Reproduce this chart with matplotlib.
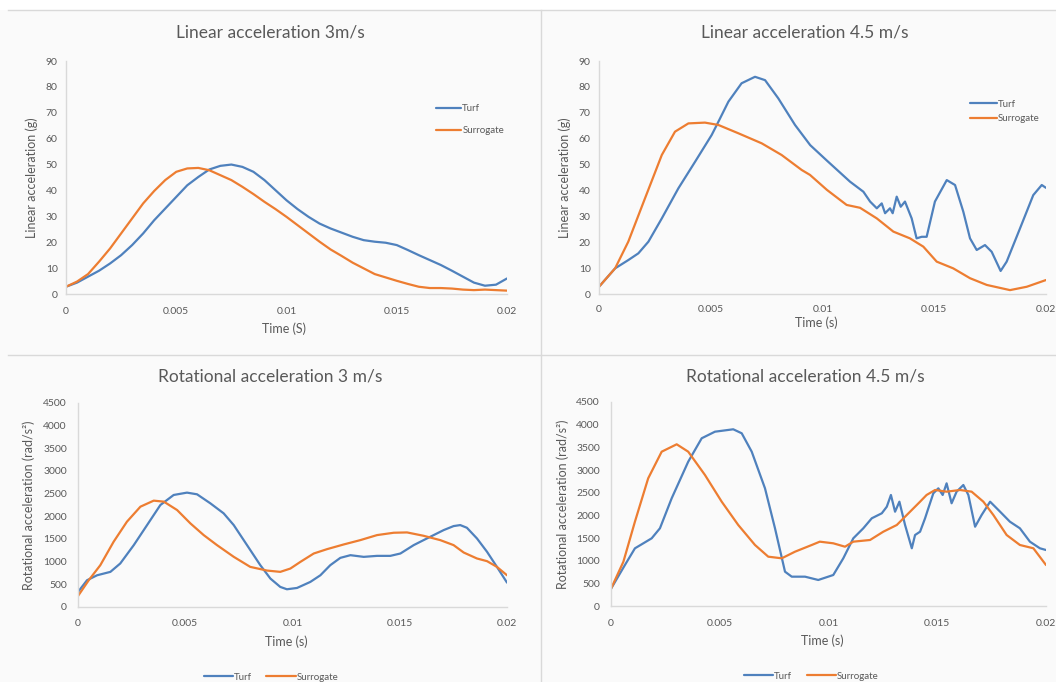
import matplotlib
matplotlib.use("Agg")
import matplotlib.pyplot as plt
import numpy as np
from matplotlib.lines import Line2D

plt.rcParams['font.family'] = ['Lato', 'DejaVu Sans']

# ---------------- data (time in milliseconds, converted to seconds for plotting) ----------------
# Panel 1: Linear acceleration 3 m/s
t1_ms = [0, 0.5, 1, 1.5, 2, 2.5, 3, 3.5, 4, 4.5, 5, 5.5, 6, 6.5, 7, 7.5, 8, 8.5, 9, 9.5, 10,
         10.5, 11, 11.5, 12, 12.5, 13, 13.5, 14, 14.5, 15, 15.5, 16, 16.5, 17, 17.5, 18, 18.5,
         19, 19.5, 20]
v1_turf = [2.8, 4.4, 6.7, 9.0, 11.8, 15.0, 18.9, 23.4, 28.5, 33.0, 37.5, 42.0, 45.2, 48.1,
           49.5, 50.0, 49.1, 47.2, 44.0, 40.1, 36.2, 32.8, 29.8, 27.2, 25.3, 23.7, 22.1, 20.8,
           20.2, 19.8, 18.9, 17.0, 15.0, 13.1, 11.2, 9.0, 6.7, 4.4, 3.2, 3.6, 6.0]
v1_sur = [2.8, 4.8, 7.7, 12.5, 17.6, 23.4, 29.2, 35.0, 39.8, 44.0, 47.2, 48.5, 48.7, 47.8,
          45.9, 44.0, 41.4, 38.6, 35.6, 32.8, 29.8, 26.6, 23.4, 20.2, 17.2, 14.7, 12.1, 9.9,
          7.7, 6.4, 5.1, 3.9, 2.8, 2.3, 2.3, 2.1, 1.7, 1.5, 1.7, 1.5, 1.3]

# Panel 2: Linear acceleration 4.5 m/s
t2_turf_ms = [0, 0.72, 1.31, 1.76, 2.21, 2.81, 3.55, 4.30, 5.04, 5.27, 5.79, 6.38, 6.98, 7.43,
              8.02, 8.77, 9.45, 10.2, 11.23, 11.83, 12.13, 12.43, 12.65, 12.80, 13.02, 13.14,
              13.32, 13.50, 13.69, 13.99, 14.21, 14.44, 14.66, 15.03, 15.56, 15.93, 16.30,
              16.60, 16.90, 17.27, 17.57, 17.97, 18.24, 18.84, 19.43, 19.81, 20.0]
v2_turf = [2.8, 9.9, 13.1, 15.7, 20.2, 29.2, 40.8, 51.1, 61.4, 65.3, 74.3, 81.4, 83.9, 82.6,
           75.6, 65.3, 57.5, 51.5, 43.4, 39.5, 35.7, 33.1, 35.0, 31.2, 33.1, 31.2,
           37.6, 33.7, 35.7, 29.2, 21.5, 22.1, 22.1, 35.7, 44.0, 42.1, 31.8,
           21.5, 17.0, 18.9, 16.3, 8.9, 12.5, 25.4, 38.2, 42.1, 41.0]
t2_sur_ms = [0, 0.72, 1.31, 2.06, 2.81, 3.40, 4.00, 4.74, 5.34, 6.23, 7.28, 8.17, 9.07, 9.44,
             10.2, 11.08, 11.68, 12.43, 13.17, 13.91, 14.51, 15.11, 15.85, 16.60, 17.35,
             18.39, 19.14, 20.0]
v2_sur = [2.8, 9.9, 20.2, 37.0, 53.7, 62.7, 65.9, 66.2, 65.3, 62.1, 58.2, 53.7, 47.9, 46.0,
          40.2, 34.4, 33.3, 29.2, 24.1, 21.5, 18.3, 12.5, 9.9, 6.1, 3.5,
          1.5, 2.8, 5.4]

# Panel 3: Rotational acceleration 3 m/s
t3_turf_ms = [0, 0.42, 0.89, 1.51, 1.97, 2.6, 3.22, 3.84, 4.46, 5.08, 5.55, 6.17, 6.79, 7.26,
              7.88, 8.5, 8.97, 9.43, 9.74, 10.21, 10.83, 11.3, 11.76, 12.23, 12.7, 13.32,
              13.94, 14.56, 15.03, 15.65, 16.11, 16.58, 17.05, 17.51, 17.82, 18.13, 18.6,
              19.07, 19.53, 20.0]
v3_turf = [332, 590, 700, 775, 960, 1365, 1807, 2250, 2471, 2523, 2486, 2287, 2066, 1807,
           1365, 922, 627, 443, 391, 420, 553, 700, 922, 1084, 1143, 1106,
           1128, 1128, 1180, 1365, 1475, 1586, 1697, 1785, 1807, 1748, 1512,
           1217, 885, 538]
t3_sur_ms = [0, 0.5, 1.04, 1.66, 2.28, 2.91, 3.53, 4.0, 4.62, 5.24, 5.86, 6.48, 7.26, 8.03,
             8.81, 9.43, 9.9, 10.37, 10.99, 11.61, 12.39, 13.16, 13.94, 14.72, 15.34, 16.11,
             16.89, 17.51, 17.98, 18.6, 19.07, 19.53, 20.0]
v3_sur = [243, 590, 922, 1439, 1881, 2213, 2346, 2324, 2139, 1844, 1586, 1365, 1107, 885,
          804, 775, 848, 996, 1180, 1276, 1380, 1475, 1586, 1638, 1645, 1571,
          1475, 1365, 1202, 1070, 1011, 885, 700]

# Panel 4: Rotational acceleration 4.5 m/s
t4_turf_ms = [0, 0.64, 1.10, 1.87, 2.25, 2.79, 3.55, 4.17, 4.78, 5.62, 6.01, 6.47, 7.08, 7.54,
              8.00, 8.31, 8.92, 9.53, 10.22, 10.68, 11.14, 11.60, 11.99, 12.45, 12.68, 12.87,
              13.06, 13.26, 13.52, 13.83, 13.98, 14.21, 14.44, 14.59, 14.82, 15.05, 15.25,
              15.43, 15.66, 15.89, 16.20, 16.43, 16.74, 17.04, 17.43, 17.89, 18.34, 18.80,
              19.26, 19.72, 20.0]
v4_turf = [380, 904, 1272, 1493, 1714, 2376, 3183, 3700, 3845, 3898, 3810, 3404, 2596, 1714,
           757, 647, 647, 574, 684, 1052, 1493, 1714, 1935, 2045, 2190, 2449,
           2080, 2301, 1787, 1273, 1566, 1639, 1935, 2155, 2486, 2596, 2449,
           2706, 2266, 2522, 2669, 2449, 1749, 2007, 2301, 2080, 1860, 1714,
           1419, 1273, 1235]
t4_sur_ms = [0, 0.57, 1.10, 1.71, 2.33, 3.02, 3.55, 4.32, 5.09, 5.85, 6.62, 7.23, 7.85, 8.46,
             9.23, 9.6, 10.22, 10.76, 11.14, 11.91, 12.52, 13.14, 13.75, 14.21, 14.51, 14.90,
             15.43, 16.05, 16.58, 17.12, 17.58, 18.19, 18.80, 19.42, 20.0]
v4_sur = [380, 977, 1860, 2817, 3404, 3567, 3404, 2890, 2301, 1787, 1346, 1088, 1052, 1198,
          1346, 1419, 1383, 1308, 1419, 1456, 1639, 1787, 2080, 2301, 2449, 2559,
          2522, 2559, 2522, 2301, 2007, 1566, 1346, 1273, 904]

titles = ["Linear acceleration 3m/s", "Linear acceleration 4.5 m/s",
          "Rotational acceleration 3 m/s", "Rotational acceleration 4.5 m/s"]
xlabels = ["Time (S)", "Time (s)", "Time (s)", "Time (s)"]
ylabels = ["Linear acceleration (g)", "Linear acceleration (g)",
           "Rotational acceleration (rad/s\u00b2)", "Rotational acceleration (rad/s\u00b2)"]
xticks = [0, 0.005, 0.01, 0.015, 0.02]
xticklabels = ["0", "0.005", "0.01", "0.015", "0.02"]
series_names = ["Turf", "Surrogate"]

# ---------------- style ----------------
W, H = 1056, 682
BLUE = "#4f81bd"
ORANGE = "#ed7d31"
TXT = "#595959"
BG = "#fafafa"
SEP = "#d9d9d9"

fig = plt.figure(figsize=(W / 100, H / 100), dpi=100, facecolor=BG)

def px_axes(left, top, right, bottom):
    return fig.add_axes([left / W, 1 - bottom / H, (right - left) / W, (bottom - top) / H])

def fx(x):
    return x / W

def fy(y):
    return 1 - y / H

boxes = [(66, 61, 507, 294), (599, 61, 1046, 294), (78, 403, 507, 607), (611, 402, 1046, 606)]
data = [(t1_ms, v1_turf, t1_ms, v1_sur), (t2_turf_ms, v2_turf, t2_sur_ms, v2_sur),
        (t3_turf_ms, v3_turf, t3_sur_ms, v3_sur), (t4_turf_ms, v4_turf, t4_sur_ms, v4_sur)]
ylims = [(0, 90), (0, 90), (0, 4500), (0, 4500)]
ysteps = [10, 10, 500, 500]
title_pos = [(270, 33), (805, 33), (270, 377), (805, 377)]
ylab_x = [32, 565, 29, 563]
xlab_y = [329, 323, 642, 641]
ypads = [6, 6, 8, 8]
xpads = [9, 8, 9, 9]

# figure background and separators
fig.patches.append(plt.Rectangle((0, fy(10)), 1, 10 / H, transform=fig.transFigure,
                                 facecolor="white", edgecolor="none", zorder=0))
fig.add_artist(Line2D([fx(8), 1], [fy(10), fy(10)], color=SEP, lw=1))
fig.add_artist(Line2D([fx(8), 1], [fy(355), fy(355)], color=SEP, lw=1))
fig.add_artist(Line2D([fx(541), fx(541)], [0, fy(10)], color=SEP, lw=1))

for i, box in enumerate(boxes):
    ax = px_axes(*box)
    ax.set_facecolor("none")
    tt, vt, ts, vs = data[i]
    ax.plot(np.array(tt) / 1000.0, vt, color=BLUE, lw=1.6, label=series_names[0],
            solid_joinstyle="round", solid_capstyle="round")
    ax.plot(np.array(ts) / 1000.0, vs, color=ORANGE, lw=1.6, label=series_names[1],
            solid_joinstyle="round", solid_capstyle="round")
    ax.set_xlim(0, 0.02)
    ax.set_ylim(*ylims[i])
    ax.set_xticks(xticks)
    ax.set_xticklabels(xticklabels)
    lo, hi = ylims[i]
    ax.set_yticks(list(range(lo, hi + 1, ysteps[i])))
    for s in ["top", "right"]:
        ax.spines[s].set_visible(False)
    for s in ["left", "bottom"]:
        ax.spines[s].set_color(SEP)
        ax.spines[s].set_linewidth(1)
    ax.tick_params(axis="x", length=0, labelsize=7.5, colors=TXT, pad=xpads[i])
    ax.tick_params(axis="y", length=0, labelsize=7.5, colors=TXT, pad=ypads[i])
    fig.text(fx(title_pos[i][0]), fy(title_pos[i][1]), titles[i], ha="center", va="center",
             fontsize=12.5, color=TXT)
    fig.text(fx(ylab_x[i]), fy((box[1] + box[3]) / 2), ylabels[i], rotation=90,
             ha="center", va="center", fontsize=9, color=TXT)
    fig.text(fx((box[0] + box[2]) / 2 - (2 if i == 0 else 6)), fy(xlab_y[i]), xlabels[i],
             ha="center", va="center", fontsize=9, color=TXT)
    if i == 0:
        ax.legend(loc="center left", bbox_to_anchor=(0.839, 0.749), borderpad=0,
                  borderaxespad=0, frameon=False, fontsize=7, labelcolor=TXT,
                  handlelength=2.6, handletextpad=0.1, labelspacing=1.35)
    elif i == 1:
        ax.legend(loc="center left", bbox_to_anchor=(0.83, 0.783), borderpad=0,
                  borderaxespad=0, frameon=False, fontsize=7, labelcolor=TXT,
                  handlelength=2.8, handletextpad=0.1, labelspacing=0.55)
    else:
        ax.legend(loc="center", bbox_to_anchor=(0.45 if i == 2 else 0.46, -0.345),
                  ncol=2, frameon=False, fontsize=7, labelcolor=TXT, handlelength=3.0,
                  handletextpad=0.1, columnspacing=1.5)

fig.savefig("out.png", dpi=100, facecolor=BG)
